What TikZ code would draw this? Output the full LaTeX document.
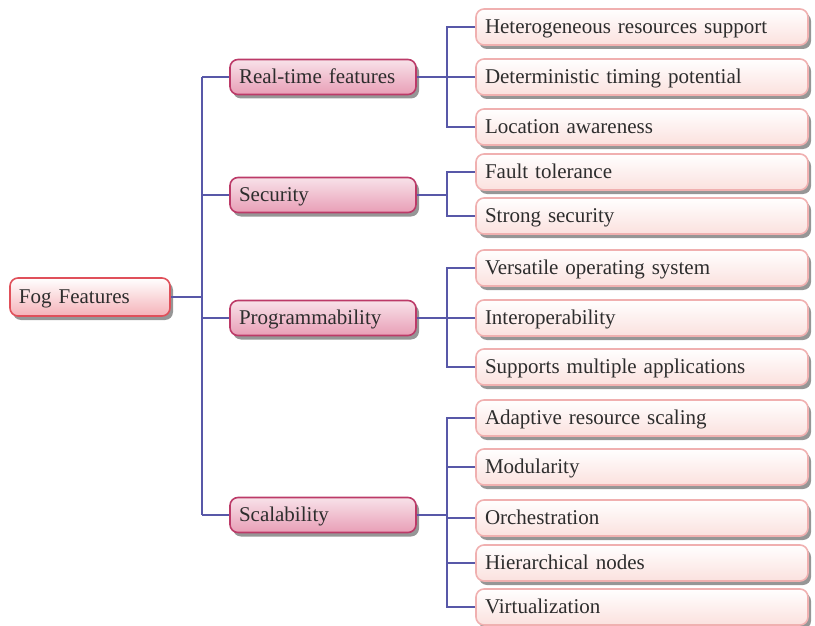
\documentclass[tikz,border=0pt]{standalone}
\usepackage{fontspec}
\setmainfont{Liberation Serif}
\usetikzlibrary{shadows, positioning}
\definecolor{linkblue}{RGB}{88, 88, 168}
\definecolor{rootred}{RGB}{224, 80, 90}
\definecolor{rootpink}{RGB}{245, 178, 184}
\definecolor{midred}{RGB}{188, 58, 104}
\definecolor{midpink}{RGB}{232, 158, 182}
\definecolor{leafline}{RGB}{240, 176, 176}
\definecolor{leafpink}{RGB}{251, 225, 222}
\definecolor{textgray}{RGB}{45, 45, 45}

\begin{document}
\begin{tikzpicture}[
  x=1pt, y=-1pt,
  box/.style={rectangle, rounded corners=8pt, line width=1.6pt, align=left,
              inner xsep=9pt, inner ysep=0pt, text=textgray,
              text height=13pt, text depth=0.5pt,
              font=\fontsize{21}{24}\selectfont,
              drop shadow={shadow xshift=3pt, shadow yshift=-4pt, fill=black!55, opacity=0.75}},
  root/.style={box, draw=rootred, top color=white, bottom color=rootpink,
               text width=142pt, minimum height=38pt},
  mid/.style={box, draw=midred, top color=midpink!30, bottom color=midpink,
              text width=168pt, minimum height=35pt},
  leaf/.style={box, draw=leafline, top color=white, bottom color=leafpink,
               text width=314pt, minimum height=36pt},
  link/.style={line width=1.4pt, linkblue}
]
  \useasboundingbox (0,0) rectangle (815,626);
  \coordinate (trunk) at (202,0);

  % root and first level
  \node[root] (fog) at (90,297) {Fog Features};
  \node[mid] (rt) at (323,77) {Real-time features};
  \node[mid] (sec) at (323,195) {Security};
  \node[mid] (prog) at (323,318) {Programmability};
  \node[mid] (scal) at (323,515) {Scalability};

  % second level
  \node[leaf] (het) at (642,27) {Heterogeneous resources support};
  \node[leaf] (det) at (642,77) {Deterministic timing potential};
  \node[leaf] (loc) at (642,127) {Location awareness};
  \node[leaf] (fault) at (642,172) {Fault tolerance};
  \node[leaf] (strong) at (642,216) {Strong security};
  \node[leaf] (vers) at (642,268) {Versatile operating system};
  \node[leaf] (inter) at (642,318) {Interoperability};
  \node[leaf] (multi) at (642,367) {Supports multiple applications};
  \node[leaf] (adapt) at (642,418) {Adaptive resource scaling};
  \node[leaf] (modu) at (642,467) {Modularity};
  \node[leaf] (orch) at (642,518) {Orchestration};
  \node[leaf] (hier) at (642,563) {Hierarchical nodes};
  \node[leaf] (virt) at (642,607) {Virtualization};

  % connectors
  \draw[link] (fog.east) -- (trunk |- fog.east);
  \draw[link] (trunk |- rt.west) -- (trunk |- scal.west);
  \draw[link] (trunk |- rt.west) -- (rt.west);
  \draw[link] (trunk |- sec.west) -- (sec.west);
  \draw[link] (trunk |- prog.west) -- (prog.west);
  \draw[link] (trunk |- scal.west) -- (scal.west);

  \draw[link] (rt.east) -- ++(30,0) |- (het.west);
  \draw[link] (rt.east) -- ++(30,0) |- (det.west);
  \draw[link] (rt.east) -- ++(30,0) |- (loc.west);
  \draw[link] (sec.east) -- ++(30,0) |- (fault.west);
  \draw[link] (sec.east) -- ++(30,0) |- (strong.west);
  \draw[link] (prog.east) -- ++(30,0) |- (vers.west);
  \draw[link] (prog.east) -- ++(30,0) |- (inter.west);
  \draw[link] (prog.east) -- ++(30,0) |- (multi.west);
  \draw[link] (scal.east) -- ++(30,0) |- (adapt.west);
  \draw[link] (scal.east) -- ++(30,0) |- (modu.west);
  \draw[link] (scal.east) -- ++(30,0) |- (orch.west);
  \draw[link] (scal.east) -- ++(30,0) |- (hier.west);
  \draw[link] (scal.east) -- ++(30,0) |- (virt.west);
\end{tikzpicture}
\end{document}
